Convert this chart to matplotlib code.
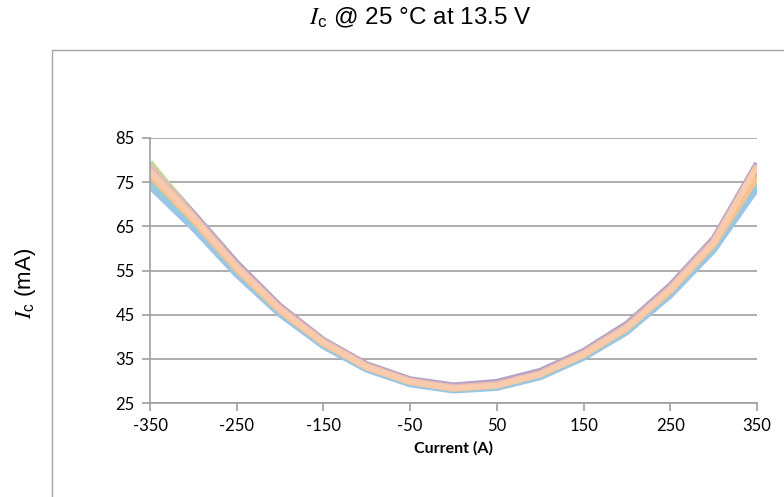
import matplotlib.pyplot as plt
from matplotlib.patches import Rectangle

plt.rcParams['mathtext.fontset'] = 'stix'
plt.rcParams['axes.unicode_minus'] = False

current = [-350, -300, -250, -200, -150, -100, -50, 0, 50, 100, 150, 200, 250, 300, 350]

s_blue = [74.0, 64.5, 54.0, 45.0, 37.8, 32.5, 29.2, 27.8, 28.4, 30.8, 35.2, 41.0, 49.3, 59.5, 73.5]
s_aqua = [75.0, 65.5, 54.8, 45.5, 38.2, 32.8, 29.5, 28.0, 28.7, 31.1, 35.5, 41.4, 49.8, 60.2, 75.0]
s_green = [79.5, 67.5, 56.0, 46.3, 38.8, 33.2, 30.0, 28.5, 29.2, 31.7, 36.2, 42.2, 50.5, 61.0, 76.5]
s_purple = [79.0, 68.0, 56.8, 47.0, 39.3, 33.8, 30.4, 29.0, 29.8, 32.3, 36.8, 43.0, 51.7, 62.3, 79.3]
s_red = [78.0, 67.0, 55.8, 46.3, 38.8, 33.3, 30.0, 28.5, 29.2, 31.7, 36.2, 42.3, 51.0, 61.5, 78.0]
s_orange = [76.5, 66.3, 55.2, 45.8, 38.4, 33.0, 29.7, 28.2, 28.9, 31.4, 35.8, 41.8, 50.3, 60.8, 76.0]
s_pink = [78.5, 67.5, 56.2, 46.6, 39.0, 33.5, 30.1, 28.6, 29.3, 31.8, 36.4, 42.5, 51.2, 61.8, 78.8]
s_peach = [77.5, 67.0, 55.8, 46.2, 38.7, 33.2, 29.8, 28.3, 29.0, 31.5, 36.0, 42.1, 50.7, 61.3, 78.5]

series = [s_purple, s_blue, s_aqua, s_green, s_red, s_orange, s_pink, s_peach]
colors = ['#B3A2C7', '#9DC3E6', '#93CDDD', '#C3D69B', '#D99694', '#FAC090', '#E6B9B8', '#F8CBAD']

yticks = [25, 35, 45, 55, 65, 75, 85]
xticks = [-350, -250, -150, -50, 50, 150, 250, 350]

fig = plt.figure(figsize=(7.84, 4.97), dpi=100)
fig.patches.append(Rectangle((52 / 784, -0.1), 1.0, 1 - 50 / 497 + 0.1,
                             transform=fig.transFigure, fill=False,
                             edgecolor='#A6A6A6', linewidth=1))

ax = fig.add_axes([150 / 784, 1 - 403 / 497, 607 / 784, 265 / 497])
for s, c in zip(series, colors):
    ax.plot(current, s, color=c, linewidth=4.2, solid_joinstyle='round',
            solid_capstyle='butt')

ax.set_xlim(-350, 350)
ax.set_ylim(25, 85)
ax.set_xticks(xticks)
ax.set_yticks(yticks)
ax.grid(axis='y', color='#A0A0A0', linewidth=1.2)
ax.set_axisbelow(True)
for sp in ['top', 'right']:
    ax.spines[sp].set_visible(False)
for sp in ['left', 'bottom']:
    ax.spines[sp].set_color('#A0A0A0')
    ax.spines[sp].set_linewidth(1.2)
ax.tick_params(axis='both', direction='out', length=6, width=1.2, color='#A0A0A0',
               labelsize=12, pad=5)
for lab in ax.get_xticklabels() + ax.get_yticklabels():
    lab.set_fontfamily('Lato')

ax.set_xlabel('Current (A)', fontfamily='Lato', fontweight='bold', fontsize=11.5, labelpad=5)

fig.text(0.536, 0.963, r'$I_{\mathregular{c}}$ @ 25 °C at 13.5 V', ha='center', va='center',
         fontsize=17.5, fontfamily='Liberation Sans')
fig.text(0.033, 0.43, r'$I_{\mathregular{c}}$ (mA)', ha='center', va='center', rotation=90,
         fontsize=16, fontfamily='Liberation Sans')

fig.savefig('out.png', dpi=100)
